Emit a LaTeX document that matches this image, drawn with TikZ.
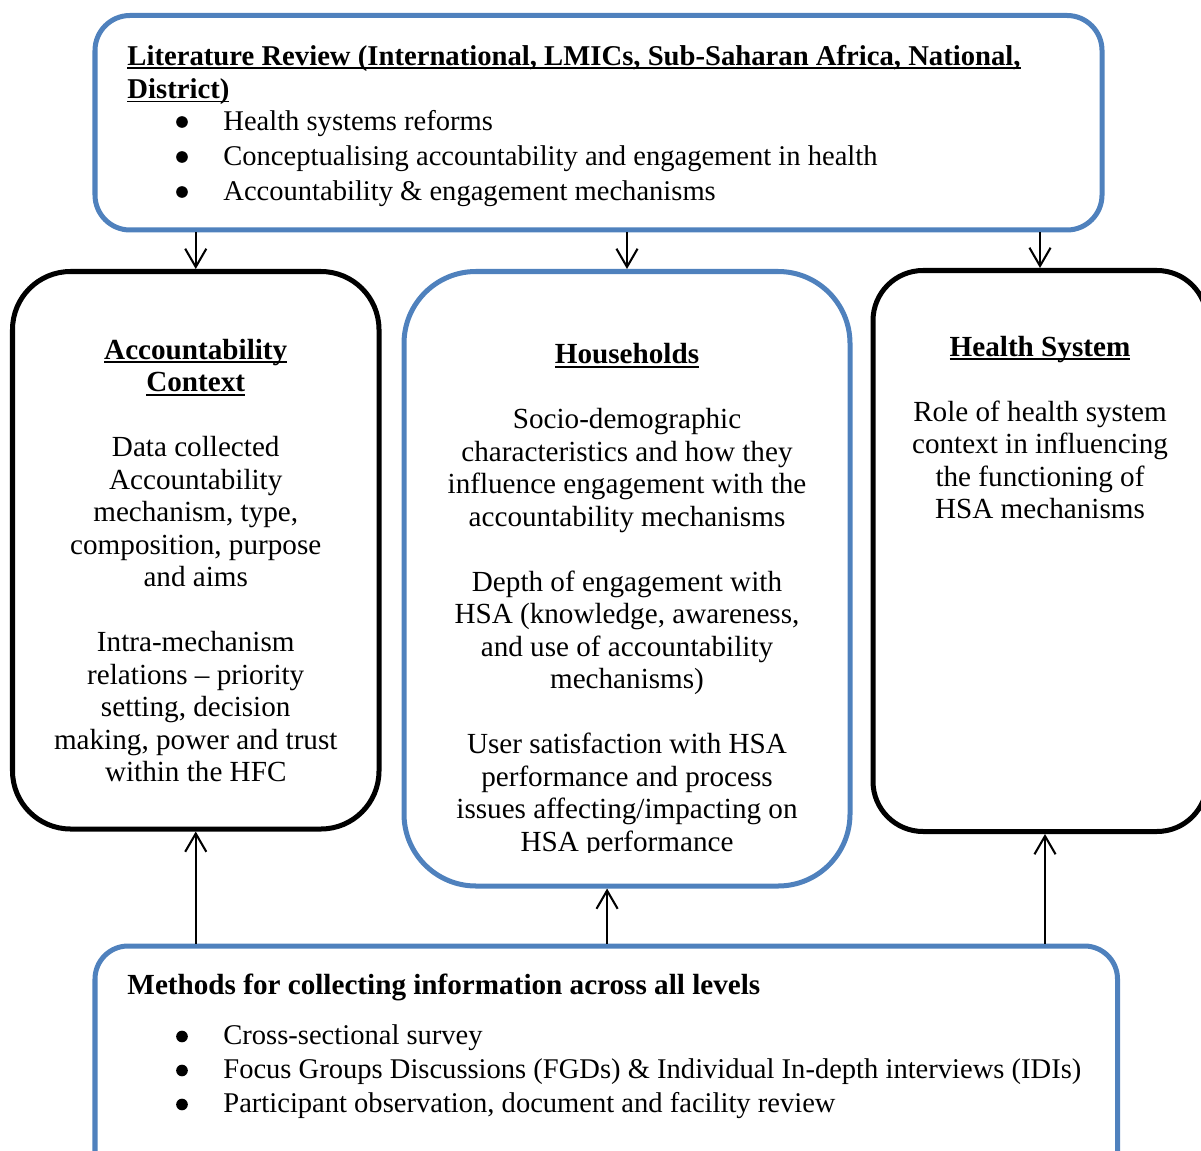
\documentclass[tikz,border=0pt]{standalone}
\usepackage{fontspec}
\setmainfont{Liberation Serif}
\usetikzlibrary{arrows.meta,fit}
\definecolor{boxblue}{RGB}{79,129,189}
% underline placed close to the baseline, word-processor style
\newcommand{\ulline}[1]{\sbox0{#1}\makebox[0pt][l]{\rule[-1.7pt]{\wd0}{0.8pt}}\usebox0}
\newcommand{\firstline}{\rule{0pt}{10pt}}
% hanging indent that leaves room for the bullet dots
\newcommand{\itemgap}{\hspace*{19.3pt}}
\begin{document}
\begin{tikzpicture}[x=0.41152pt,y=-0.41152pt,
  frame/.style={line width=2.06pt, rounded corners=#1, inner sep=0pt},
  blueframe/.style={frame=#1, draw=boxblue},
  blackframe/.style={frame=#1, draw=black},
  boxtext/.style={align=center, inner sep=0pt, anchor=north,
    font=\fontsize{12}{13.37}\selectfont},
  listtext/.style={align=left, inner sep=0pt, anchor=north west,
    font=\fontsize{11.75}{#1}\selectfont},
  dot/.style={fill=black},
  link/.style={line width=0.85pt, -{Straight Barb[length=7.5pt,width=8.7pt]}}
]
\useasboundingbox (0,0) rectangle (1201,1151);
\clip (0,0) rectangle (1201,1151);

% frames
\node[blueframe=14.4pt, fit={(95,15.5) (1102,230)}] (lit) {};
\node[blackframe=23.9pt, fit={(12.5,271.5) (379,829)}] (acc) {};
\node[blueframe=29.6pt, fit={(404,271.5) (850,886)}] (hh) {};
\node[blackframe=20.6pt, fit={(873,270.5) (1207,831.5)}] (hs) {};
\node[blueframe=13.6pt, fit={(95,946) (1117.5,1185)}] (meth) {};

% literature review
\node[listtext=13.6pt, font=\fontsize{11.8}{13.6}\selectfont\bfseries] (littitle) at (127,40.5)
  {\firstline\ulline{Literature Review (International, LMICs, Sub-Saharan Africa, National,}\\
   \ulline{District)}};
\node[listtext=14.4pt] (litlist) at (176,105.5)
  {\firstline\itemgap Health systems reforms\\
   \itemgap Conceptualising accountability and engagement in health\\
   \itemgap Accountability \& engagement mechanisms};
\foreach \k in {0,1,2}
  \fill[dot] ([shift={(6,16.5+35*\k)}]litlist.north west) circle[radius=2.4pt];

% accountability context
\node[boxtext] (acctext) at (acc.north |- 0,334.5)
  {\firstline\textbf{\ulline{Accountability}}\\
   \textbf{\ulline{Context}}\\[13.37pt]
   Data collected\\
   Accountability\\
   mechanism, type,\\
   composition, purpose\\
   and aims\\[13.37pt]
   Intra-mechanism\\
   relations – priority\\
   setting, decision\\
   making, power and trust\\
   within the HFC};

% households
\begin{scope}
\clip (405,273) rectangle (849,852);
\node[boxtext] (hhtext) at (hh.north |- 0,339)
  {\firstline\textbf{\ulline{Households}}\\[13.37pt]
   Socio-demographic\\
   characteristics and how they\\
   influence engagement with the\\
   accountability mechanisms\\[13.37pt]
   Depth of engagement with\\
   HSA (knowledge, awareness,\\
   and use of accountability\\
   mechanisms)\\[13.37pt]
   User satisfaction with HSA\\
   performance and process\\
   issues affecting/impacting on\\
   HSA performance};
\end{scope}

% health system
\node[boxtext] (hstext) at (hs.north |- 0,331.5)
  {\firstline\textbf{\ulline{Health System}}\\[13.37pt]
   Role of health system\\
   context in influencing\\
   the functioning of\\
   HSA mechanisms};

% methods
\node[listtext=14pt, font=\fontsize{12}{14}\selectfont\bfseries] (methtitle) at (127,970.2)
  {\firstline Methods for collecting information across all levels};
\node[listtext=14pt] (methlist) at (176,1020)
  {\firstline\itemgap Cross-sectional survey\\
   \itemgap Focus Groups Discussions (FGDs) \& Individual In-depth interviews (IDIs)\\
   \itemgap Participant observation, document and facility review};
\foreach \k in {0,1,2}
  \fill[dot] ([shift={(6,16.5+34*\k)}]methlist.north west) circle[radius=2.4pt];

% connectors
\draw[link] (acc.north |- lit.south) -- (acc.north);
\draw[link] (hh.north |- lit.south) -- (hh.north);
\draw[link] (hs.north |- lit.south) -- (hs.north);
\draw[link] (acc.south |- meth.north) -- (acc.south);
\draw[link] ([xshift=-8.2pt]hh.south |- meth.north) -- ([xshift=-8.2pt]hh.south);
\draw[link] ([xshift=2.06pt]hs.south |- meth.north) -- ([xshift=2.06pt]hs.south);
\end{tikzpicture}
\end{document}
